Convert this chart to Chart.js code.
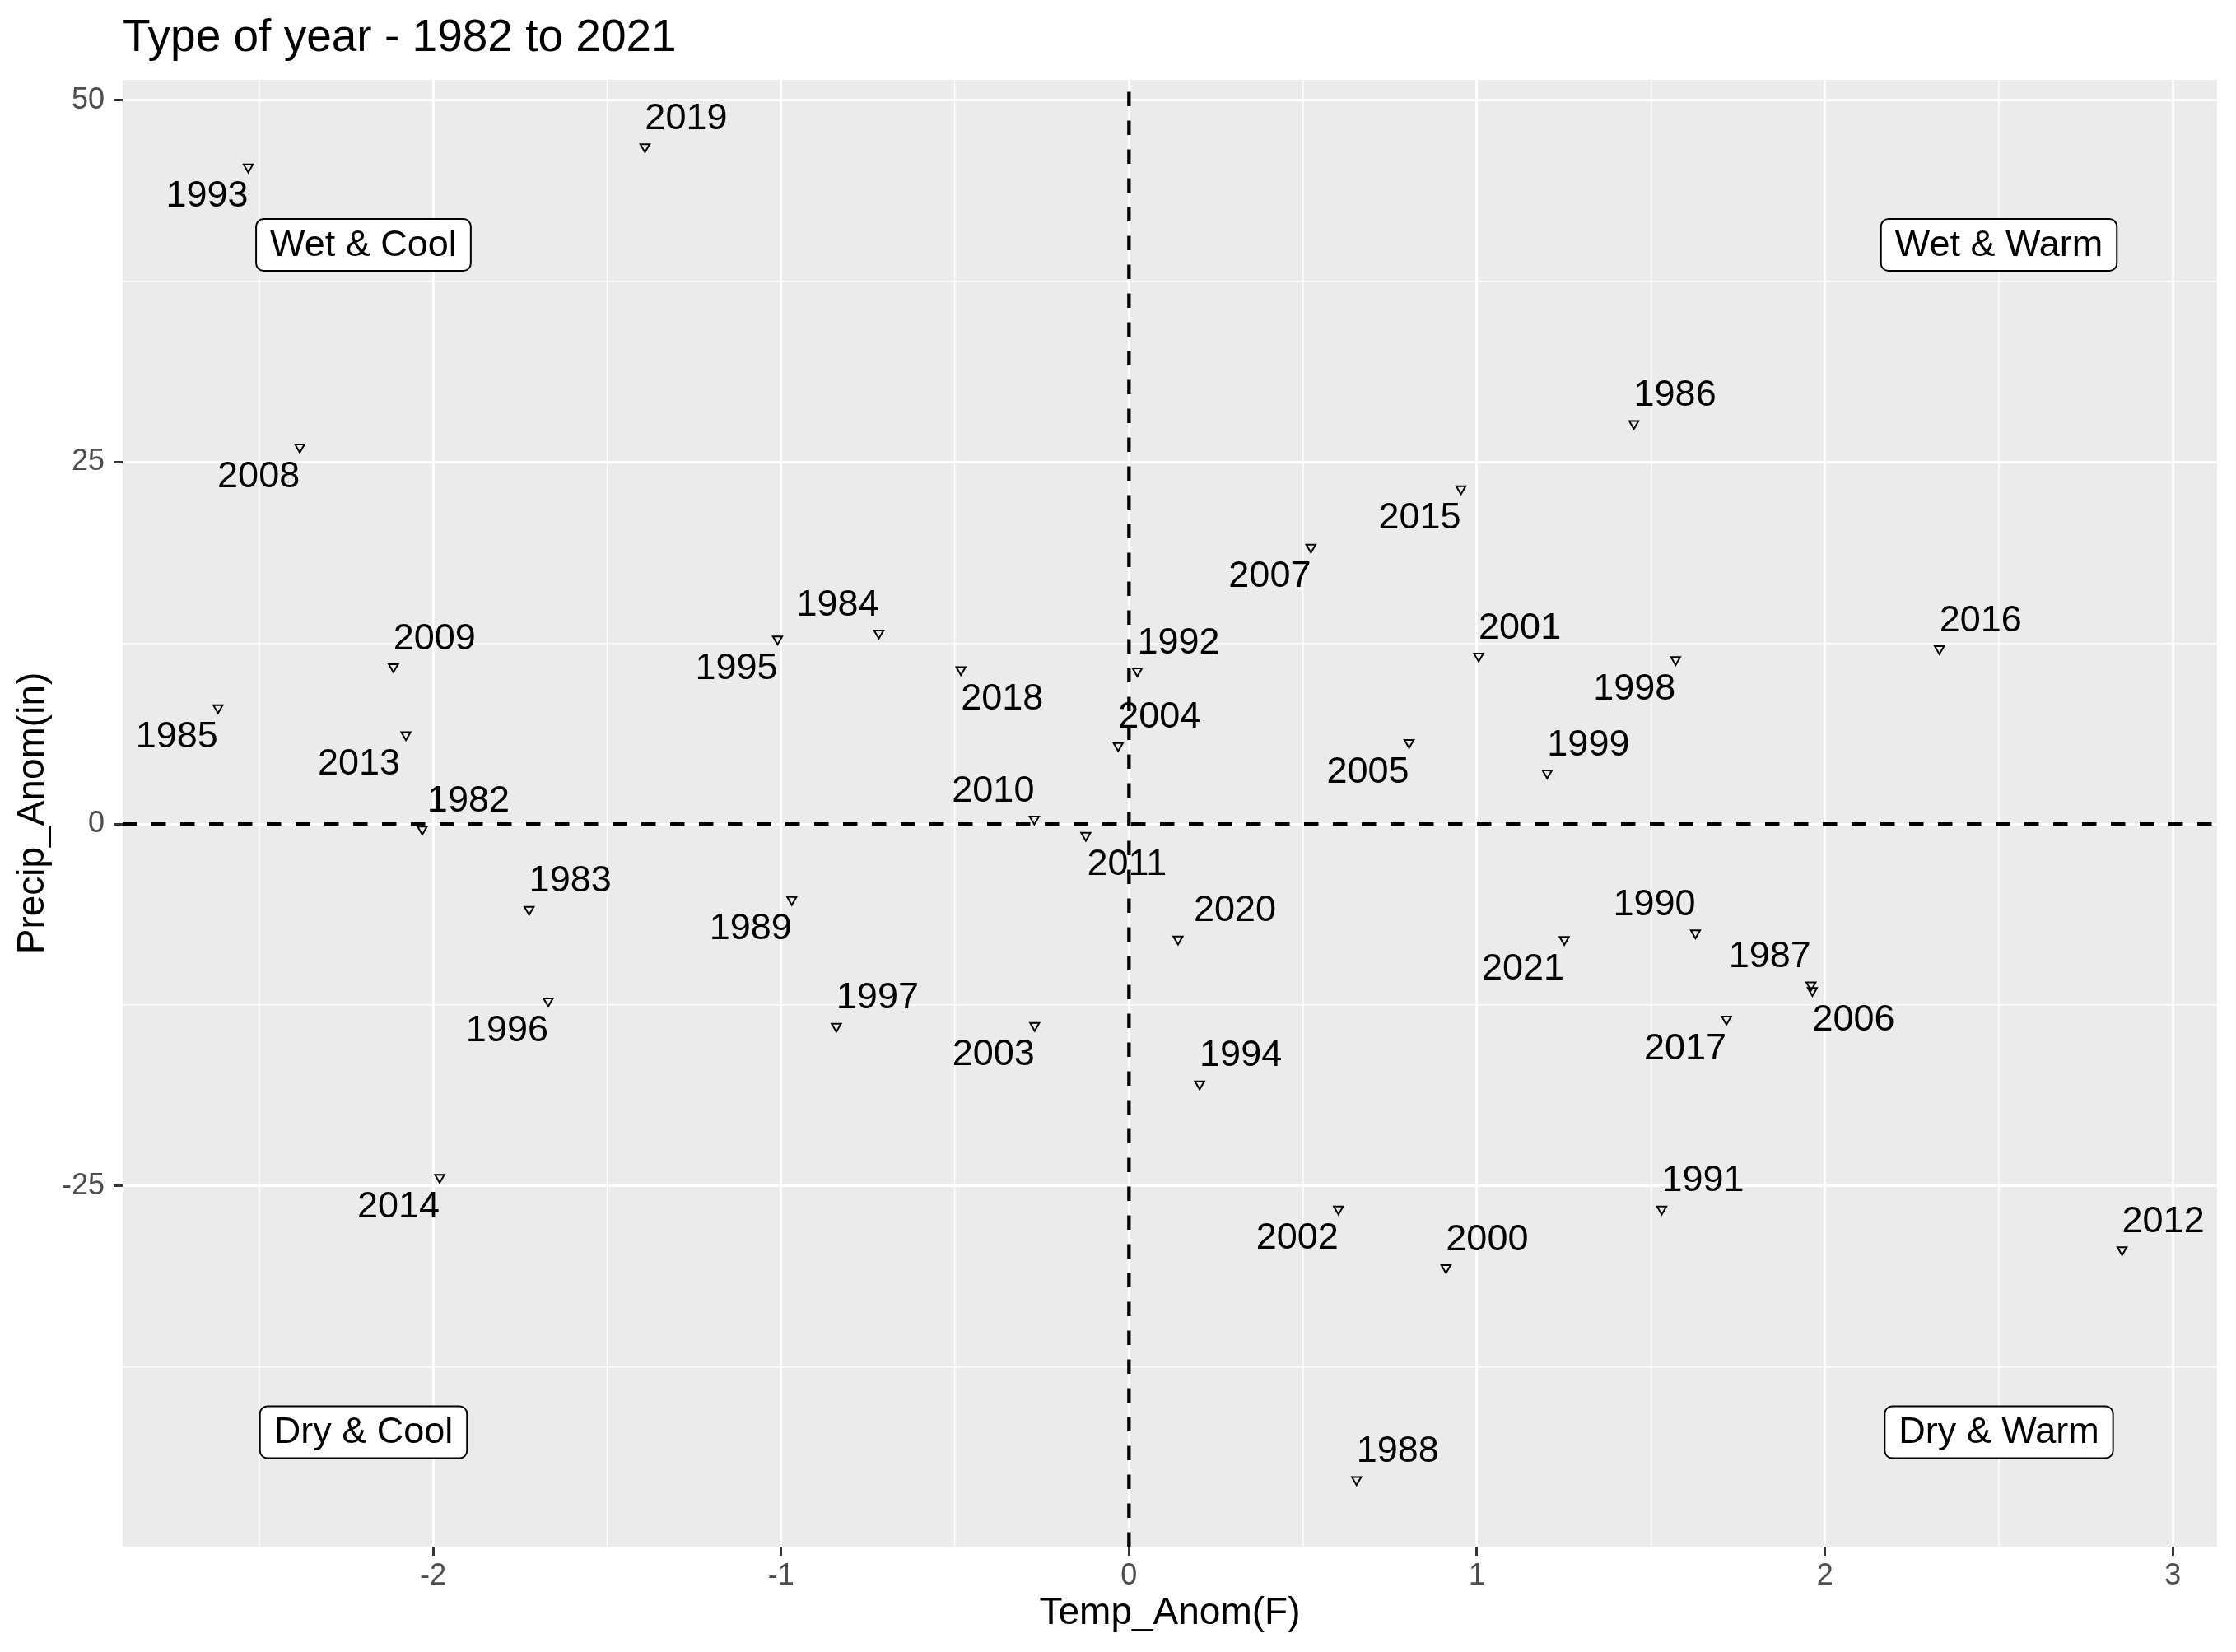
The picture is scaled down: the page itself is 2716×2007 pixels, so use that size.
<!DOCTYPE html>
<html>
<head>
<meta charset="utf-8">
<title>Type of year - 1982 to 2021</title>
<script src="https://cdn.jsdelivr.net/npm/chart.js@4/dist/chart.umd.min.js"></script>
<style>
  html, body { margin: 0; padding: 0; background: #ffffff; }
  canvas { display: block; }
</style>
</head>
<body>
<canvas id="typeOfYear" width="2716" height="2007"></canvas>
<script>
// type of year: temperature vs precipitation anomaly, 1982-2021

var years = [1982, 1983, 1984, 1985, 1986, 1987, 1988, 1989, 1990, 1991,
             1992, 1993, 1994, 1995, 1996, 1997, 1998, 1999, 2000, 2001,
             2002, 2003, 2004, 2005, 2006, 2007, 2008, 2009, 2010, 2011,
             2012, 2013, 2014, 2015, 2016, 2017, 2018, 2019, 2020, 2021];

var tempAnom = [-2.031, -1.724, -0.719, -2.618, 1.451, 1.960, 0.654, -0.969, 1.628, 1.531,
                0.024, -2.531, 0.203, -1.010, -1.669, -0.841, 1.571, 1.202, 0.911, 1.005,
                0.602, -0.271, -0.031, 0.805, 1.964, 0.523, -2.383, -2.114, -0.272, -0.124,
                2.854, -2.078, -1.981, 0.954, 2.329, 1.717, -0.483, -1.391, 0.141, 1.251];

var precipAnom = [-0.36, -5.90, 13.18, 8.03, 27.65, -11.12, -45.28, -5.22, -7.52, -26.59,
                  10.57, 45.38, -17.95, 12.78, -12.23, -13.97, 11.35, 3.52, -30.65, 11.59,
                  -26.59, -13.92, 5.41, 5.63, -11.50, 19.11, 26.03, 10.86, 0.34, -0.78,
                  -29.40, 6.16, -24.40, 23.15, 12.11, -13.48, 10.66, 46.76, -7.95, -7.98];

var xMajorTicks = [-2, -1, 0, 1, 2, 3];
var xMinorTicks = [-2.5, -1.5, -0.5, 0.5, 1.5, 2.5];
var yMajorTicks = [-25, 0, 25, 50];
var yMinorTicks = [-37.5, -12.5, 12.5, 37.5];

var quadrantNames = ['Wet & Cool', 'Wet & Warm', 'Dry & Cool', 'Dry & Warm'];
var quadrantTemp = [-2.2, 2.5, -2.2, 2.5];
var quadrantPrecip = [40, 40, -42, -42];

// where the repelled label of each year ended up, relative to its point
var labelSide = {
  1982: 'ne', 1983: 'ne', 1984: 'nw', 1985: 'sw', 1986: 'ne', 1987: 'nw', 1988: 'ne',
  1989: 'sw', 1990: 'nw', 1991: 'ne', 1992: 'ne', 1993: 'sw', 1994: 'ne', 1995: 'sw',
  1996: 'sw', 1997: 'ne', 1998: 'sw', 1999: 'ne', 2000: 'ne', 2001: 'ne', 2002: 'sw',
  2003: 'sw', 2004: 'ne', 2005: 'sw', 2006: 'se', 2007: 'sw', 2008: 'sw', 2009: 'ne',
  2010: 'nw', 2011: 'se', 2012: 'ne', 2013: 'sw', 2014: 'sw', 2015: 'sw', 2016: 'ne',
  2017: 'sw', 2018: 'se', 2019: 'ne', 2020: 'ne', 2021: 'sw'
};
var labelPush = { 1982: 6, 2013: 7, 2020: 19 };

var FONT = "'Liberation Sans', Arial, Helvetica, sans-serif";

function tickList(major, minor) {
  return major.concat(minor).sort(function (a, b) { return a - b; });
}

function isMajor(list, v) {
  return list.indexOf(v) >= 0;
}

function roundBox(ctx, x, y, w, h, r) {
  ctx.beginPath();
  ctx.moveTo(x + r, y);
  ctx.lineTo(x + w - r, y);
  ctx.arcTo(x + w, y, x + w, y + r, r);
  ctx.lineTo(x + w, y + h - r);
  ctx.arcTo(x + w, y + h, x + w - r, y + h, r);
  ctx.lineTo(x + r, y + h);
  ctx.arcTo(x, y + h, x, y + h - r, r);
  ctx.lineTo(x, y + r);
  ctx.arcTo(x, y, x + r, y, r);
  ctx.closePath();
}

var decorations = {
  id: 'decorations',
  beforeDraw: function (chart) {
    var a = chart.chartArea;
    var ctx = chart.ctx;
    ctx.save();
    ctx.fillStyle = '#ffffff';
    ctx.fillRect(0, 0, chart.width, chart.height);
    ctx.fillStyle = '#EBEBEB';
    ctx.fillRect(a.left, a.top, a.right - a.left, a.bottom - a.top);
    ctx.fillStyle = '#000000';
    ctx.font = '55px ' + FONT;
    ctx.textAlign = 'left';
    ctx.textBaseline = 'alphabetic';
    ctx.fillText('Type of year - 1982 to 2021', a.left, 62);
    ctx.restore();
  },
  beforeDatasetsDraw: function (chart) {
    var a = chart.chartArea;
    var ctx = chart.ctx;
    var x0 = chart.scales.x.getPixelForValue(0);
    var y0 = chart.scales.y.getPixelForValue(0);
    ctx.save();
    ctx.strokeStyle = '#000000';
    ctx.lineWidth = 4.3;
    ctx.setLineDash([17.5, 17.5]);
    ctx.beginPath();
    ctx.moveTo(x0, a.bottom);
    ctx.lineTo(x0, a.top);
    ctx.stroke();
    ctx.beginPath();
    ctx.moveTo(a.left, y0);
    ctx.lineTo(a.right, y0);
    ctx.stroke();
    ctx.restore();
  },
  afterDatasetsDraw: function (chart) {
    var ctx = chart.ctx;
    var meta = chart.getDatasetMeta(0);
    ctx.save();
    ctx.font = '45px ' + FONT;
    ctx.fillStyle = '#000000';
    ctx.textAlign = 'center';
    ctx.textBaseline = 'middle';

    meta.data.forEach(function (pt, i) {
      var yr = years[i];
      var side = labelSide[yr];
      var dx = 50 + (labelPush[yr] || 0);
      var dy = 35;
      var lx = pt.x + (side.charAt(1) === 'e' ? dx : -dx);
      var ly = pt.y + (side.charAt(0) === 'n' ? -dy : dy) + 1;
      ctx.fillText(String(yr), lx, ly);
    });

    // quadrant boxes
    var xs = chart.scales.x;
    var ys = chart.scales.y;
    quadrantNames.forEach(function (name, i) {
      var cx = xs.getPixelForValue(quadrantTemp[i]);
      var cy = ys.getPixelForValue(quadrantPrecip[i]);
      var w = ctx.measureText(name).width + 34;
      var h = 63;
      roundBox(ctx, cx - w / 2, cy - h / 2, w, h, 9);
      ctx.fillStyle = '#ffffff';
      ctx.fill();
      ctx.lineWidth = 2;
      ctx.strokeStyle = '#000000';
      ctx.stroke();
      ctx.fillStyle = '#000000';
      ctx.fillText(name, cx, cy + 1);
    });
    ctx.restore();
  }
};

var points = years.map(function (yr, i) {
  return { x: tempAnom[i], y: precipAnom[i] };
});

var ctx = document.getElementById('typeOfYear');

var myChart = new Chart(ctx, {
  type: 'scatter',
  data: {
    datasets: [{
      label: 'Year',
      data: points,
      pointStyle: 'triangle',
      pointRotation: 180,
      pointRadius: 6.5,
      pointBorderWidth: 2,
      pointBorderColor: '#000000',
      pointBackgroundColor: 'rgba(0,0,0,0)'
    }]
  },
  options: {
    responsive: false,
    animation: false,
    devicePixelRatio: 1,
    events: [],
    layout: { padding: { top: 97, right: 23, bottom: 0, left: 0 } },
    plugins: {
      legend: { display: false },
      tooltip: { enabled: false },
      title: { display: false }
    },
    scales: {
      x: {
        type: 'linear',
        min: -2.892,
        max: 3.127,
        afterBuildTicks: function (s) {
          s.ticks = tickList(xMajorTicks, xMinorTicks).map(function (v) { return { value: v }; });
        },
        afterFit: function (s) { s.height = 128; },
        border: { display: false },
        grid: {
          color: '#ffffff',
          lineWidth: function (c) { return c.tick && isMajor(xMajorTicks, c.tick.value) ? 3 : 1.5; },
          tickColor: function (c) { return c.tick && isMajor(xMajorTicks, c.tick.value) ? '#333333' : 'rgba(0,0,0,0)'; },
          tickLength: 11,
          tickWidth: 3
        },
        ticks: {
          autoSkip: false,
          maxRotation: 0,
          padding: 3,
          color: '#4D4D4D',
          font: { family: FONT, size: 36 },
          callback: function (v) { return isMajor(xMajorTicks, v) ? String(v) : ''; }
        },
        title: {
          display: true,
          text: 'Temp_Anom(F)',
          color: '#000000',
          font: { family: FONT, size: 46 },
          padding: { top: 0, bottom: 19 }
        }
      },
      y: {
        type: 'linear',
        min: -49.9,
        max: 51.4,
        afterBuildTicks: function (s) {
          s.ticks = tickList(yMajorTicks, yMinorTicks).map(function (v) { return { value: v }; });
        },
        afterFit: function (s) { s.width = 149; },
        border: { display: false },
        grid: {
          color: '#ffffff',
          lineWidth: function (c) { return c.tick && isMajor(yMajorTicks, c.tick.value) ? 3 : 1.5; },
          tickColor: function (c) { return c.tick && isMajor(yMajorTicks, c.tick.value) ? '#333333' : 'rgba(0,0,0,0)'; },
          tickLength: 11,
          tickWidth: 3
        },
        ticks: {
          autoSkip: false,
          padding: 11,
          color: '#4D4D4D',
          font: { family: FONT, size: 36 },
          callback: function (v) { return isMajor(yMajorTicks, v) ? String(v) : ''; }
        },
        title: {
          display: true,
          text: 'Precip_Anom(in)',
          color: '#000000',
          font: { family: FONT, size: 46 },
          padding: { top: 13, bottom: 0 }
        }
      }
    }
  },
  plugins: [decorations]
});
</script>
</body>
</html>
